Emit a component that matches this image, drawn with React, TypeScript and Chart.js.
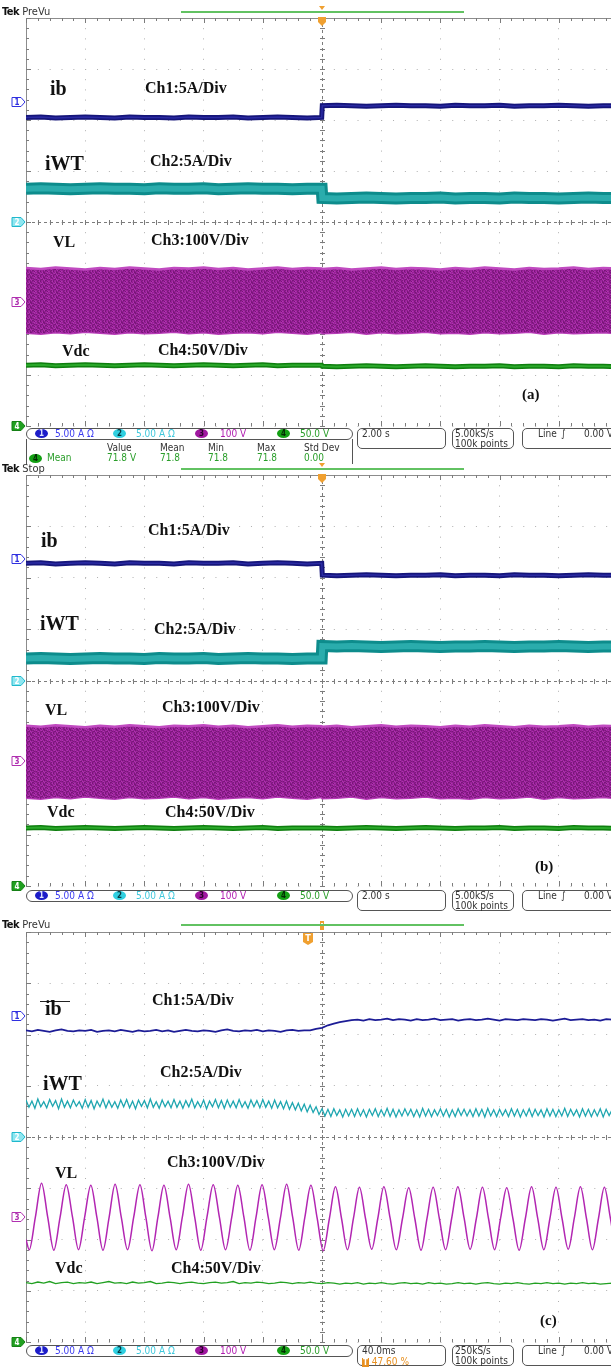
import React, { useEffect, useRef } from "react";
import { Chart, registerables } from "chart.js";
Chart.register(...registerables);

// ---------------- DATA (screen divisions, -4..4 vertical) ----------------
// Panels (a) and (b): time in seconds, 2.00 s/div
const abTimes = [
  -10, -9.5, -9, -8.5, -8, -7.5, -7, -6.5, -6, -5.5,
  -5, -4.5, -4, -3.5, -3, -2.5, -2, -1.5, -1, -0.5,
  -0.01,
  0.01, 0.5, 1, 1.5, 2, 2.5, 3, 3.5, 4, 4.5,
  5, 5.5, 6, 6.5, 7, 7.5, 8, 8.5, 9, 9.5,
  10,
];
const aIb = [
  2.05, 2.06, 2.04, 2.05, 2.06, 2.05, 2.04, 2.06, 2.05, 2.05,
  2.04, 2.06, 2.05, 2.05, 2.06, 2.04, 2.05, 2.06, 2.05, 2.04,
  2.05,
  2.28, 2.29, 2.28, 2.27, 2.28, 2.29, 2.28, 2.28, 2.27, 2.29,
  2.28, 2.28, 2.29, 2.27, 2.28, 2.28, 2.29, 2.28, 2.27, 2.28,
  2.28,
];
const aIwt = [
  0.65, 0.66, 0.65, 0.64, 0.65, 0.66, 0.65, 0.65, 0.64, 0.66,
  0.65, 0.65, 0.66, 0.64, 0.65, 0.66, 0.65, 0.65, 0.64, 0.65,
  0.65,
  0.47, 0.46, 0.47, 0.48, 0.47, 0.46, 0.47, 0.47, 0.48, 0.46,
  0.47, 0.47, 0.46, 0.48, 0.47, 0.47, 0.46, 0.47, 0.48, 0.47,
  0.47,
];
const aVlTop = [
  -0.90, -0.92, -0.89, -0.91, -0.93, -0.90, -0.92, -0.89, -0.91, -0.93,
  -0.90, -0.91, -0.89, -0.92, -0.90, -0.93, -0.91, -0.89, -0.92, -0.90,
  -0.91, -0.92, -0.90, -0.93, -0.91, -0.89, -0.92, -0.90, -0.91, -0.93,
  -0.90, -0.92, -0.89, -0.91, -0.93, -0.90, -0.92, -0.91, -0.89, -0.92,
  -0.90, -0.91,
];
const aVlBot = [
  -2.17, -2.19, -2.16, -2.18, -2.15, -2.17, -2.19, -2.16, -2.18, -2.17,
  -2.15, -2.18, -2.16, -2.19, -2.17, -2.16, -2.18, -2.15, -2.17, -2.19,
  -2.16, -2.18, -2.17, -2.15, -2.19, -2.16, -2.18, -2.17, -2.15, -2.18,
  -2.17, -2.19, -2.16, -2.18, -2.17, -2.15, -2.19, -2.16, -2.18, -2.17,
  -2.16, -2.18,
];
const aVdc = [
  -2.81, -2.80, -2.82, -2.81, -2.80, -2.81, -2.82, -2.81, -2.80, -2.81,
  -2.82, -2.81, -2.80, -2.81, -2.82, -2.81, -2.80, -2.82, -2.81, -2.81,
  -2.81,
  -2.83, -2.84, -2.83, -2.82, -2.83, -2.84, -2.83, -2.82, -2.83, -2.84,
  -2.83, -2.83, -2.82, -2.84, -2.83, -2.83, -2.84, -2.82, -2.83, -2.83,
  -2.84,
];
const bIb = [
  2.28, 2.29, 2.27, 2.28, 2.29, 2.28, 2.27, 2.29, 2.28, 2.28,
  2.27, 2.29, 2.28, 2.28, 2.29, 2.27, 2.28, 2.29, 2.28, 2.27,
  2.28,
  2.05, 2.04, 2.05, 2.06, 2.05, 2.04, 2.05, 2.05, 2.06, 2.04,
  2.05, 2.05, 2.04, 2.06, 2.05, 2.05, 2.04, 2.05, 2.06, 2.05,
  2.05,
];
const bIwt = [
  0.43, 0.44, 0.43, 0.42, 0.43, 0.44, 0.43, 0.43, 0.42, 0.44,
  0.43, 0.43, 0.44, 0.42, 0.43, 0.44, 0.43, 0.43, 0.42, 0.43,
  0.43,
  0.67, 0.66, 0.67, 0.66, 0.65, 0.66, 0.67, 0.66, 0.65, 0.66,
  0.66, 0.67, 0.66, 0.65, 0.66, 0.66, 0.67, 0.66, 0.65, 0.66,
  0.66,
];
const bVlTop = [
  -0.88, -0.90, -0.87, -0.89, -0.91, -0.88, -0.90, -0.87, -0.89, -0.91,
  -0.88, -0.89, -0.87, -0.90, -0.88, -0.91, -0.89, -0.87, -0.90, -0.88,
  -0.89, -0.90, -0.88, -0.91, -0.89, -0.87, -0.90, -0.88, -0.89, -0.91,
  -0.88, -0.90, -0.87, -0.89, -0.91, -0.88, -0.90, -0.89, -0.87, -0.90,
  -0.88, -0.89,
];
const bVlBot = [
  -2.28, -2.30, -2.27, -2.29, -2.26, -2.28, -2.30, -2.27, -2.29, -2.28,
  -2.26, -2.29, -2.27, -2.30, -2.28, -2.27, -2.29, -2.26, -2.28, -2.30,
  -2.27, -2.29, -2.28, -2.26, -2.30, -2.27, -2.29, -2.28, -2.26, -2.29,
  -2.28, -2.30, -2.27, -2.29, -2.28, -2.26, -2.30, -2.27, -2.29, -2.28,
  -2.27, -2.29,
];
const bVdc = [
  -2.87, -2.86, -2.88, -2.87, -2.86, -2.87, -2.88, -2.87, -2.86, -2.87,
  -2.88, -2.87, -2.86, -2.87, -2.88, -2.87, -2.86, -2.88, -2.87, -2.87,
  -2.87,
  -2.87, -2.88, -2.87, -2.86, -2.87, -2.88, -2.87, -2.86, -2.87, -2.88,
  -2.87, -2.87, -2.86, -2.88, -2.87, -2.87, -2.88, -2.86, -2.87, -2.87,
  -2.88,
];

// Panel (c): time in ms, 40.0 ms/div
const cTimes4 = [
  -200, -196, -192, -188, -184, -180, -176, -172, -168, -164,
  -160, -156, -152, -148, -144, -140, -136, -132, -128, -124,
  -120, -116, -112, -108, -104, -100, -96, -92, -88, -84,
  -80, -76, -72, -68, -64, -60, -56, -52, -48, -44,
  -40, -36, -32, -28, -24, -20, -16, -12, -8, -4,
  0, 4, 8, 12, 16, 20, 24, 28, 32, 36,
  40, 44, 48, 52, 56, 60, 64, 68, 72, 76,
  80, 84, 88, 92, 96, 100, 104, 108, 112, 116,
  120, 124, 128, 132, 136, 140, 144, 148, 152, 156,
  160, 164, 168, 172, 176, 180, 184, 188, 192, 196,
  200,
];
const cIb = [
  2.08, 2.06, 2.09, 2.07, 2.05, 2.08, 2.10, 2.07, 2.06, 2.08,
  2.07, 2.09, 2.05, 2.07, 2.08, 2.06, 2.09, 2.07, 2.05, 2.08,
  2.06, 2.07, 2.09, 2.06, 2.08, 2.05, 2.07, 2.09, 2.07, 2.06,
  2.08, 2.07, 2.05, 2.08, 2.10, 2.07, 2.06, 2.08, 2.07, 2.09,
  2.06, 2.08, 2.07, 2.05, 2.08, 2.09, 2.07, 2.08,
  2.08, 2.11, 2.13, 2.18, 2.21, 2.24, 2.26, 2.28,
  2.29, 2.27, 2.30, 2.28, 2.29, 2.31, 2.28, 2.30, 2.29, 2.27,
  2.30, 2.28, 2.29, 2.31, 2.28, 2.29, 2.30, 2.27, 2.29, 2.30,
  2.28, 2.29, 2.31, 2.29, 2.27, 2.30, 2.29, 2.28, 2.30, 2.29,
  2.28, 2.30, 2.29, 2.27, 2.29, 2.31, 2.28, 2.29, 2.30, 2.28,
  2.29, 2.27, 2.30, 2.29, 2.28,
];
const cVdc = [
  -2.84, -2.86, -2.83, -2.85, -2.82, -2.86, -2.84, -2.83, -2.86, -2.84,
  -2.85, -2.83, -2.86, -2.84, -2.82, -2.85, -2.84, -2.86, -2.83, -2.85,
  -2.84, -2.82, -2.86, -2.85, -2.83, -2.84, -2.86, -2.84, -2.83, -2.85,
  -2.86, -2.84, -2.83, -2.85, -2.84, -2.82, -2.86, -2.84, -2.85, -2.83,
  -2.84, -2.86, -2.85, -2.83, -2.84, -2.86, -2.84, -2.85, -2.83, -2.85,
  -2.86, -2.84, -2.85, -2.87, -2.85, -2.86, -2.84, -2.87, -2.85, -2.86,
  -2.84, -2.86, -2.87, -2.85, -2.84, -2.86, -2.85, -2.87, -2.84, -2.86,
  -2.85, -2.87, -2.86, -2.84, -2.86, -2.85, -2.87, -2.85, -2.84, -2.86,
  -2.87, -2.85, -2.86, -2.84, -2.86, -2.87, -2.85, -2.86, -2.84, -2.86,
  -2.85, -2.87, -2.85, -2.86, -2.84, -2.86, -2.85, -2.87, -2.86, -2.85,
  -2.86,
];
const cTimes2 = [
  -200, -198, -196, -194, -192, -190, -188, -186, -184, -182,
  -180, -178, -176, -174, -172, -170, -168, -166, -164, -162,
  -160, -158, -156, -154, -152, -150, -148, -146, -144, -142,
  -140, -138, -136, -134, -132, -130, -128, -126, -124, -122,
  -120, -118, -116, -114, -112, -110, -108, -106, -104, -102,
  -100, -98, -96, -94, -92, -90, -88, -86, -84, -82,
  -80, -78, -76, -74, -72, -70, -68, -66, -64, -62,
  -60, -58, -56, -54, -52, -50, -48, -46, -44, -42,
  -40, -38, -36, -34, -32, -30, -28, -26, -24, -22,
  -20, -18, -16, -14, -12, -10, -8, -6, -4, -2,
  0, 2, 4, 6, 8, 10, 12, 14, 16, 18,
  20, 22, 24, 26, 28, 30, 32, 34, 36, 38,
  40, 42, 44, 46, 48, 50, 52, 54, 56, 58,
  60, 62, 64, 66, 68, 70, 72, 74, 76, 78,
  80, 82, 84, 86, 88, 90, 92, 94, 96, 98,
  100, 102, 104, 106, 108, 110, 112, 114, 116, 118,
  120, 122, 124, 126, 128, 130, 132, 134, 136, 138,
  140, 142, 144, 146, 148, 150, 152, 154, 156, 158,
  160, 162, 164, 166, 168, 170, 172, 174, 176, 178,
  180, 182, 184, 186, 188, 190, 192, 194, 196, 198,
  200,
];
const cIwt = [
  0.72, 0.58, 0.70, 0.56, 0.74, 0.59, 0.69, 0.57, 0.73, 0.60,
  0.71, 0.55, 0.74, 0.58, 0.70, 0.57, 0.72, 0.60, 0.69, 0.56,
  0.73, 0.58, 0.71, 0.55, 0.70, 0.59, 0.74, 0.57, 0.71, 0.58,
  0.69, 0.56, 0.72, 0.59, 0.73, 0.57, 0.70, 0.55, 0.72, 0.60,
  0.71, 0.57, 0.74, 0.58, 0.69, 0.56, 0.72, 0.59, 0.70, 0.57,
  0.73, 0.58, 0.70, 0.56, 0.71, 0.59, 0.74, 0.57, 0.69, 0.58,
  0.72, 0.55, 0.70, 0.59, 0.73, 0.57, 0.71, 0.56, 0.72, 0.58,
  0.70, 0.57, 0.73, 0.58, 0.69, 0.56, 0.72, 0.59, 0.71, 0.57,
  0.73, 0.58, 0.70, 0.56, 0.72, 0.57, 0.69, 0.55, 0.70, 0.54,
  0.67, 0.53, 0.66, 0.51, 0.64, 0.49, 0.62, 0.48, 0.59, 0.44,
  0.55, 0.41, 0.54, 0.40, 0.55, 0.42, 0.53, 0.39, 0.54, 0.41,
  0.54, 0.40, 0.55, 0.41, 0.53, 0.39, 0.54, 0.42, 0.55, 0.40,
  0.53, 0.41, 0.56, 0.40, 0.54, 0.39, 0.53, 0.41, 0.55, 0.42,
  0.54, 0.40, 0.53, 0.39, 0.56, 0.41, 0.54, 0.40, 0.53, 0.42,
  0.55, 0.41, 0.54, 0.39, 0.53, 0.40, 0.55, 0.42, 0.54, 0.41,
  0.53, 0.40, 0.55, 0.41, 0.54, 0.39, 0.56, 0.41, 0.53, 0.40,
  0.54, 0.42, 0.53, 0.40, 0.55, 0.41, 0.54, 0.39, 0.53, 0.41,
  0.55, 0.40, 0.54, 0.42, 0.53, 0.39, 0.55, 0.41, 0.54, 0.40,
  0.53, 0.41, 0.56, 0.40, 0.54, 0.42, 0.53, 0.39, 0.55, 0.41,
  0.54, 0.40, 0.53, 0.41, 0.55, 0.39, 0.54, 0.42, 0.53, 0.40,
  0.54,
];
// VL sine (c): peaks / zero crossings / troughs
const vlTimes = [
  -200, -197.8, -193.7, -189.5,
  -185.3, -181.2, -177.0, -172.8,
  -168.6, -164.5, -160.4, -156.2,
  -152.1, -148.0, -143.9, -139.8,
  -135.6, -131.4, -127.2, -123.0,
  -119.0, -114.9, -110.9, -106.8,
  -102.6, -98.5, -94.4, -90.2,
  -86.0, -81.9, -77.7, -73.5,
  -69.3, -65.2, -61.0, -56.9,
  -52.8, -48.7, -44.6, -40.5,
  -36.3, -32.2, -28.1, -23.9,
  -19.8, -15.7, -11.6, -7.5,
  -3.3, 0.8, 5.0, 9.1,
  13.2, 17.2, 21.3, 25.3,
  29.4, 33.6, 37.7, 41.8,
  46.0, 50.2, 54.4, 58.6,
  62.7, 66.9, 71.0, 75.1,
  79.3, 83.5, 87.6, 91.8,
  96.0, 100.1, 104.3, 108.4,
  112.5, 116.6, 120.7, 124.8,
  129.0, 133.2, 137.4, 141.6,
  145.7, 149.9, 154.0, 158.1,
  162.2, 166.4, 170.5, 174.6,
  178.7, 182.7, 186.8, 190.8,
  194.9, 199.0, 200,
];
const vlValues = [
  -2.00, -2.20, -1.57, -0.90,
  -1.57, -2.21, -1.57, -0.93,
  -1.56, -2.20, -1.57, -0.94,
  -1.57, -2.21, -1.58, -0.92,
  -1.57, -2.20, -1.56, -0.93,
  -1.57, -2.22, -1.57, -0.94,
  -1.58, -2.20, -1.57, -0.92,
  -1.57, -2.21, -1.56, -0.93,
  -1.57, -2.20, -1.57, -0.94,
  -1.56, -2.21, -1.57, -0.93,
  -1.57, -2.20, -1.58, -0.92,
  -1.57, -2.21, -1.57, -0.94,
  -1.58, -2.22, -1.59, -0.97,
  -1.59, -2.20, -1.58, -0.98,
  -1.59, -2.19, -1.59, -0.97,
  -1.58, -2.20, -1.59, -0.99,
  -1.59, -2.21, -1.58, -0.98,
  -1.59, -2.20, -1.59, -0.97,
  -1.58, -2.19, -1.59, -0.98,
  -1.59, -2.20, -1.58, -0.99,
  -1.59, -2.21, -1.59, -0.97,
  -1.58, -2.20, -1.59, -0.98,
  -1.59, -2.19, -1.58, -0.97,
  -1.59, -2.20, -1.59, -0.98,
  -1.59, -2.20, -2.19,
];

// channel ground markers (divisions) and status bar texts
const chMarkerLevels = [2.36, 0, -1.56, -4];
const chNumbers = ["1", "2", "3", "4"];
const chScales = ["5.00 A \u03A9", "5.00 A \u03A9", "100 V", "50.0 V"];
const measHeads = ["Value", "Mean", "Min", "Max", "Std Dev"];
const measValues = ["71.8 V", "71.8", "71.8", "71.8", "0.00"];

// ---------------- STYLE ----------------
const SANS = '"DejaVu Sans Condensed","Liberation Sans Narrow","DejaVu Sans",Arial,sans-serif';
const SERIF = '"Liberation Serif","Times New Roman",serif';
const CW = 640;
const PAD = { left: 26, right: 22, top: 14, bottom: 14 };
const ORANGE = "#f0a030";

const chOval = ["#1d1dc8", "#30cfe0", "#a018a0", "#14a014"];
const chOvalText = ["#dfe4ff", "#053b44", "#2a002a", "#032803"];
const chTextCol = ["#3c3cf0", "#40c8dc", "#b01cb0", "#2a9e2a"];
const mkFill = ["#ffffff", "#8ee6f0", "#ffffff", "#20a020"];
const mkStroke = ["#3030e0", "#20b8cc", "#b030b0", "#168016"];
const mkText = ["#3030e0", "#ffffff", "#b030b0", "#ffffff"];
// texture shades for the dense VL band
const bandShades = ["#9c229c", "#7c187c", "#b034b0", "#8a1c8a", "#a42aa4", "#761676", "#942094"];
const bandTexture = [
  0, 3, 1, 5, 2, 0, 4, 6, 1, 3, 5, 0, 2,
  4, 1, 6, 0, 3, 2, 5, 1, 4, 0, 6, 3, 1,
  2, 5, 0, 4, 1, 6, 3, 0, 5, 2, 4, 1, 6,
  6, 0, 3, 2, 5, 1, 0, 4, 2, 6, 0, 3, 5,
  1, 4, 2, 6, 0, 5, 3, 1, 4, 0, 2, 6, 3,
];

const scopePlugin = {
  id: "scope",
  beforeDatasetsDraw(chart: any) {
    const { ctx, chartArea: a, scales } = chart;
    const x = scales.x, y = scales.y;
    ctx.save();
    ctx.lineWidth = 1;
    ctx.strokeStyle = "#8c8c8c";
    const L = Math.round(a.left) + 0.5;
    const Tp = Math.round(a.top) + 0.5;
    ctx.beginPath();
    ctx.moveTo(L, a.top); ctx.lineTo(L, a.bottom);
    ctx.moveTo(a.left, Tp); ctx.lineTo(a.right, Tp);
    ctx.stroke();
    const cx = Math.round(x.getPixelForValue((x.min + x.max) / 2)) + 0.5;
    const cy = Math.round(y.getPixelForValue(0)) + 0.5;
    ctx.strokeStyle = "#7c7c7c";
    ctx.setLineDash([3, 3]);
    ctx.beginPath();
    ctx.moveTo(a.left, cy); ctx.lineTo(a.right, cy);
    ctx.moveTo(cx, a.top); ctx.lineTo(cx, a.bottom);
    ctx.stroke();
    ctx.setLineDash([]);
    ctx.beginPath();
    for (let i = 0; i <= 50; i++) {
      const px = Math.round(x.getPixelForValue(x.min + ((x.max - x.min) * i) / 50)) + 0.5;
      const major = i % 5 === 0;
      ctx.moveTo(px, a.top); ctx.lineTo(px, a.top + (major ? 5 : 3));
      ctx.moveTo(px, a.bottom); ctx.lineTo(px, a.bottom - (major ? 5 : 3));
      ctx.moveTo(px, cy - 2.5); ctx.lineTo(px, cy + 2.5);
    }
    for (let j = 0; j <= 40; j++) {
      const py = Math.round(y.getPixelForValue(y.min + ((y.max - y.min) * j) / 40)) + 0.5;
      const major = j % 5 === 0;
      ctx.moveTo(a.left, py); ctx.lineTo(a.left + (major ? 5 : 3), py);
      ctx.moveTo(cx - 2.5, py); ctx.lineTo(cx + 2.5, py);
    }
    ctx.stroke();
    ctx.restore();
  },
  afterDraw(chart: any, _a: any, opts: any) {
    const { ctx, chartArea: a, scales } = chart;
    const x = scales.x, y = scales.y;
    ctx.save();
    chMarkerLevels.forEach((lv, i) => {
      const py = Math.round(y.getPixelForValue(lv));
      ctx.beginPath();
      ctx.moveTo(12, py - 4.5);
      ctx.lineTo(21, py - 4.5);
      ctx.lineTo(25, py);
      ctx.lineTo(21, py + 4.5);
      ctx.lineTo(12, py + 4.5);
      ctx.closePath();
      ctx.fillStyle = mkFill[i];
      ctx.strokeStyle = mkStroke[i];
      ctx.lineWidth = 1;
      ctx.fill();
      ctx.stroke();
      ctx.fillStyle = mkText[i];
      ctx.font = "bold 8px " + SANS;
      ctx.textAlign = "center";
      ctx.textBaseline = "middle";
      ctx.fillText(chNumbers[i], 17, py + 0.5);
    });
    const cx = Math.round(x.getPixelForValue((x.min + x.max) / 2));
    ctx.fillStyle = ORANGE;
    if (opts.mode === "ab") {
      ctx.beginPath();
      ctx.moveTo(cx - 3, a.top - 12); ctx.lineTo(cx + 3, a.top - 12); ctx.lineTo(cx, a.top - 8);
      ctx.closePath(); ctx.fill();
      ctx.beginPath();
      ctx.moveTo(cx - 4, a.top - 1); ctx.lineTo(cx + 4, a.top - 1); ctx.lineTo(cx + 4, a.top + 4);
      ctx.lineTo(cx, a.top + 8); ctx.lineTo(cx - 4, a.top + 4);
      ctx.closePath(); ctx.fill();
    } else {
      ctx.fillRect(cx - 2, a.top - 11, 4, 9);
      ctx.fillStyle = "#ffffff";
      ctx.fillRect(cx - 1, a.top - 9, 2, 1);
      const tx = Math.round(x.getPixelForValue(opts.trigX));
      ctx.fillStyle = ORANGE;
      ctx.beginPath();
      ctx.moveTo(tx - 5, a.top + 1); ctx.lineTo(tx + 5, a.top + 1); ctx.lineTo(tx + 5, a.top + 10);
      ctx.lineTo(tx, a.top + 13); ctx.lineTo(tx - 5, a.top + 10);
      ctx.closePath(); ctx.fill();
      ctx.fillStyle = "#ffffff";
      ctx.font = "bold 9px " + SANS;
      ctx.textAlign = "center";
      ctx.textBaseline = "middle";
      ctx.fillText("T", tx, a.top + 6.5);
    }
    ctx.restore();
  },
};

const pts = (xs: number[], ys: number[]) => xs.map((v, i) => ({ x: v, y: ys[i] }));
const ln = (xs: number[], ys: number[], color: string, width: number, extra: any = {}) => ({
  data: pts(xs, ys),
  borderColor: color,
  borderWidth: width,
  pointRadius: 0,
  fill: false,
  tension: 0,
  borderJoinStyle: "miter",
  ...extra,
});

function makePattern(): any {
  const c = document.createElement("canvas");
  const w = 13, h = 5;
  c.width = w; c.height = h;
  const g = c.getContext("2d")!;
  bandTexture.forEach((s, k) => {
    g.fillStyle = bandShades[s];
    g.fillRect(k % w, Math.floor(k / w), 1, 1);
  });
  return g.createPattern(c, "repeat");
}

function bandSets(ib: number[], iwt: number[], vlTop: number[], vlBot: number[], vdc: number[], pat: any) {
  return [
    ln(abTimes, ib, "#2a2aa2", 1.5),
    ln(abTimes, ib, "#15157a", 5),
    ln(abTimes, iwt, "#2aacac", 6),
    ln(abTimes, iwt, "#0d8c8c", 12),
    ln(abTimes, vdc, "#2aa82a", 2),
    ln(abTimes, vdc, "#0e7e0e", 5),
    ln(abTimes, vlTop, "#c04ac0", 2.5, { fill: "+1", backgroundColor: pat }),
    ln(abTimes, vlBot, "#b83cb8", 2.5),
  ];
}

type PanelCfg = {
  canvasTop: number;
  canvasH: number;
  xMin: number;
  xMax: number;
  xStep: number;
  mode: "ab" | "c";
  trigX: number;
  build: (pat: any) => any[];
};

const panels: PanelCfg[] = [
  {
    canvasTop: 4, canvasH: 436, xMin: -10, xMax: 10, xStep: 2, mode: "ab", trigX: 0,
    build: (p) => bandSets(aIb, aIwt, aVlTop, aVlBot, aVdc, p),
  },
  {
    canvasTop: 461, canvasH: 439, xMin: -10, xMax: 10, xStep: 2, mode: "ab", trigX: 0,
    build: (p) => bandSets(bIb, bIwt, bVlTop, bVlBot, bVdc, p),
  },
  {
    canvasTop: 918, canvasH: 438, xMin: -200, xMax: 200, xStep: 40, mode: "c", trigX: -9.5,
    build: () => [
      ln(cTimes4, cIb, "#1c1c96", 1.8),
      ln(cTimes2, cIwt, "#1fa6b0", 1.3),
      ln(vlTimes, vlValues, "#b226b2", 1.5, { cubicInterpolationMode: "monotone" }),
      ln(cTimes4, cVdc, "#22a022", 1.3),
    ],
  },
];

function ScopeChart({ cfg }: { cfg: PanelCfg }) {
  const ref = useRef<HTMLCanvasElement>(null);
  useEffect(() => {
    const canvas = ref.current!;
    const areaH = cfg.canvasH - PAD.top - PAD.bottom;
    const areaW = CW - PAD.left - PAD.right;
    const dy = areaH / 8;
    const dx = areaW / 10;
    const chart = new Chart(canvas, {
      type: "line",
      data: { datasets: cfg.build(makePattern()) },
      options: {
        animation: false,
        responsive: false,
        maintainAspectRatio: false,
        events: [],
        layout: { padding: PAD },
        plugins: {
          legend: { display: false },
          tooltip: { enabled: false },
          scope: { mode: cfg.mode, trigX: cfg.trigX },
        } as any,
        scales: {
          x: {
            type: "linear",
            min: cfg.xMin,
            max: cfg.xMax,
            ticks: { display: false, stepSize: cfg.xStep },
            grid: { color: "#b0b0b0", drawTicks: false, lineWidth: 1 },
            border: { display: false, dash: [1, dy / 5 - 1] },
          },
          y: {
            type: "linear",
            min: -4,
            max: 4,
            ticks: { display: false, stepSize: 1 },
            grid: { color: "#b0b0b0", drawTicks: false, lineWidth: 1 },
            border: { display: false, dash: [1, dx / 5 - 1] },
          },
        },
      } as any,
      plugins: [scopePlugin as any],
    });
    return () => chart.destroy();
  }, []);
  return (
    <canvas
      ref={ref}
      width={CW}
      height={cfg.canvasH}
      style={{ position: "absolute", left: 0, top: cfg.canvasTop, width: CW, height: cfg.canvasH }}
    />
  );
}

function Txt(props: { x: number; y: number; size?: number; color?: string; bold?: boolean; family?: string; children: any }) {
  const size = props.size ?? 10;
  return (
    <div
      style={{
        position: "absolute",
        left: props.x,
        top: props.y - size * 0.6,
        fontSize: size,
        lineHeight: `${size * 1.2}px`,
        color: props.color ?? "#333",
        fontWeight: props.bold ? "bold" : "normal",
        fontFamily: props.family ?? SANS,
        whiteSpace: "nowrap",
      }}
    >
      {props.children}
    </div>
  );
}

function Oval({ x, y, i }: { x: number; y: number; i: number }) {
  return (
    <div
      style={{
        position: "absolute",
        left: x,
        top: y - 4.5,
        width: 13,
        height: 9,
        borderRadius: "50%",
        background: chOval[i],
        color: chOvalText[i],
        fontSize: 8,
        lineHeight: "9px",
        fontWeight: "bold",
        fontFamily: SANS,
        textAlign: "center",
      }}
    >
      {chNumbers[i]}
    </div>
  );
}

function Box({ x, y, w, h, r = 5 }: { x: number; y: number; w: number; h: number; r?: number }) {
  return (
    <div
      style={{
        position: "absolute",
        left: x,
        top: y,
        width: w,
        height: h,
        border: "1px solid #555",
        borderRadius: r,
        boxSizing: "border-box",
      }}
    />
  );
}

function Header({ y, word }: { y: number; word: string }) {
  return (
    <>
      <div
        style={{
          position: "absolute",
          left: 2,
          top: y - 7,
          fontSize: 11,
          lineHeight: "13px",
          fontFamily: SANS,
          whiteSpace: "nowrap",
          color: "#333",
        }}
      >
        <b style={{ color: "#111", letterSpacing: -0.5 }}>Tek</b> {word}
      </div>
      <div style={{ position: "absolute", left: 181, top: y - 1, width: 283, height: 2, background: "#62c262" }} />
    </>
  );
}

function StatusBar({ top, tb, tb2, rate, meas }: { top: number; tb: string; tb2?: string; rate: string; meas?: boolean }) {
  const ovalX = [35, 113, 195, 277];
  const textX = [55, 136, 220, 300];
  const cy = top + 5.5;
  const headX = [107, 160, 208, 257, 304];
  return (
    <>
      <Box x={26} y={top} w={327} h={12} r={6} />
      {ovalX.map((ox, i) => (
        <Oval key={"o" + i} x={ox} y={cy} i={i} />
      ))}
      {textX.map((tx, i) => (
        <Txt key={"t" + i} x={tx} y={cy} color={chTextCol[i]}>
          {chScales[i]}
        </Txt>
      ))}
      <Box x={357} y={top} w={89} h={21} />
      <Txt x={362} y={cy} color="#333">{tb}</Txt>
      {tb2 ? (
        <div
          style={{
            position: "absolute",
            left: 362,
            top: top + 11,
            fontSize: 10,
            lineHeight: "11px",
            fontFamily: SANS,
            color: "#e89020",
            whiteSpace: "nowrap",
          }}
        >
          <span style={{ background: "#e89020", color: "#fff", fontWeight: "bold", padding: "0 1px", fontSize: 8 }}>T</span> {tb2}
        </div>
      ) : null}
      <Box x={452} y={top} w={62} h={21} />
      <Txt x={455} y={cy} color="#333">{rate}</Txt>
      <Txt x={455} y={top + 16} color="#333">100k points</Txt>
      <Box x={522} y={top} w={110} h={21} />
      <Txt x={538} y={cy} color="#333">Line</Txt>
      <Txt x={561} y={cy} color="#333">{"\u222B"}</Txt>
      <Txt x={584} y={cy} color="#333">0.00 V</Txt>
      {meas ? (
        <>
          <div
            style={{
              position: "absolute",
              left: 26,
              top: top + 11,
              width: 327,
              height: 25,
              borderLeft: "1px solid #555",
              borderRight: "1px solid #555",
              boxSizing: "border-box",
            }}
          />
          {measHeads.map((h, i) => (
            <Txt key={"h" + i} x={headX[i]} y={top + 19.5} color="#333">{h}</Txt>
          ))}
          <Oval x={29} y={top + 30} i={3} />
          <Txt x={47} y={top + 30} color="#2a9e2a">Mean</Txt>
          {measValues.map((v, i) => (
            <Txt key={"v" + i} x={headX[i]} y={top + 30} color="#2a9e2a">{v}</Txt>
          ))}
        </>
      ) : null}
    </>
  );
}

function Lbl({ x, y, size, children }: { x: number; y: number; size: number; children: any }) {
  return (
    <Txt x={x} y={y} size={size} bold family={SERIF} color="#111">
      {children}
    </Txt>
  );
}

export default function App() {
  return (
    <div
      style={{
        position: "absolute",
        left: 0,
        top: 0,
        width: 611,
        height: 1369,
        overflow: "hidden",
        background: "#ffffff",
      }}
    >
      {panels.map((p, i) => (
        <ScopeChart key={i} cfg={p} />
      ))}

      {/* panel (a) */}
      <Header y={12} word="PreVu" />
      <Lbl x={50} y={88} size={20}>ib</Lbl>
      <Lbl x={145} y={88} size={16}>Ch1:5A/Div</Lbl>
      <Lbl x={45} y={163} size={20}>iWT</Lbl>
      <Lbl x={150} y={161} size={16}>Ch2:5A/Div</Lbl>
      <Lbl x={53} y={242} size={16}>VL</Lbl>
      <Lbl x={151} y={240} size={16}>Ch3:100V/Div</Lbl>
      <Lbl x={62} y={351} size={16}>Vdc</Lbl>
      <Lbl x={158} y={350} size={16}>Ch4:50V/Div</Lbl>
      <Lbl x={522} y={394} size={15}>(a)</Lbl>
      <StatusBar top={428} tb="2.00 s" rate="5.00kS/s" meas />

      {/* panel (b) */}
      <Header y={469} word="Stop" />
      <Lbl x={41} y={540} size={20}>ib</Lbl>
      <Lbl x={148} y={530} size={16}>Ch1:5A/Div</Lbl>
      <Lbl x={40} y={623} size={20}>iWT</Lbl>
      <Lbl x={154} y={629} size={16}>Ch2:5A/Div</Lbl>
      <Lbl x={45} y={710} size={16}>VL</Lbl>
      <Lbl x={162} y={707} size={16}>Ch3:100V/Div</Lbl>
      <Lbl x={47} y={812} size={16}>Vdc</Lbl>
      <Lbl x={165} y={812} size={16}>Ch4:50V/Div</Lbl>
      <Lbl x={535} y={866} size={15}>(b)</Lbl>
      <StatusBar top={890} tb="2.00 s" rate="5.00kS/s" />

      {/* panel (c) */}
      <Header y={925} word="PreVu" />
      <div style={{ position: "absolute", left: 40, top: 1001, width: 30, height: 1, background: "#222" }} />
      <Lbl x={45} y={1008} size={20}>ib</Lbl>
      <Lbl x={152} y={1000} size={16}>Ch1:5A/Div</Lbl>
      <Lbl x={43} y={1083} size={20}>iWT</Lbl>
      <Lbl x={160} y={1072} size={16}>Ch2:5A/Div</Lbl>
      <Lbl x={55} y={1173} size={16}>VL</Lbl>
      <Lbl x={167} y={1162} size={16}>Ch3:100V/Div</Lbl>
      <Lbl x={55} y={1268} size={16}>Vdc</Lbl>
      <Lbl x={171} y={1268} size={16}>Ch4:50V/Div</Lbl>
      <Lbl x={540} y={1320} size={15}>(c)</Lbl>
      <StatusBar top={1345} tb="40.0ms" tb2="47.60 %" rate="250kS/s" />
    </div>
  );
}
